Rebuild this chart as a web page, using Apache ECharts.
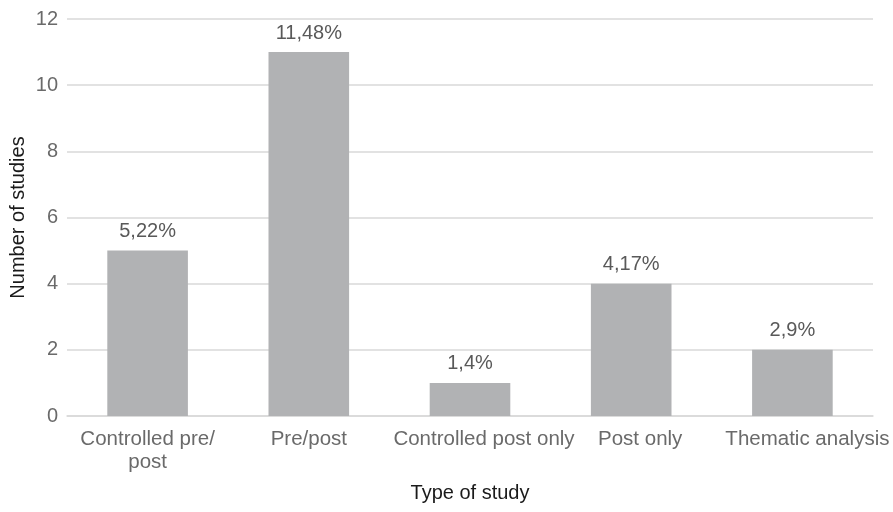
<!DOCTYPE html>
<html>
<head>
<meta charset="utf-8">
<script src="https://cdn.jsdelivr.net/npm/echarts@6/dist/echarts.min.js"></script>
<style>
  html, body { margin: 0; padding: 0; background: #fff; }
  #chart { width: 893px; height: 512px; }
</style>
</head>
<body>
<div id="chart"></div>
<script>
// Study types and how many studies fall into each
const categories = ['Controlled pre/\npost', 'Pre/post', 'Controlled post only', 'Post only', 'Thematic analysis'];
const studyCounts = [5, 11, 1, 4, 2];
const countLabels = ['5,22%', '11,48%', '1,4%', '4,17%', '2,9%'];
const yTicks = [0, 2, 4, 6, 8, 10, 12];

// left padding (px) nudging each category caption to the right
const captionNudge = [0, 0, 28, 18, 30];

const chart = echarts.init(document.getElementById('chart'));
const font = 'Liberation Sans, Arial, Helvetica, sans-serif';

const captionRich = {};
captionNudge.forEach((pad, i) => {
  captionRich['c' + i] = {
    color: '#6a6a6a', fontSize: 20.5, fontFamily: font,
    lineHeight: 23, padding: [0, 0, 0, pad]
  };
});

chart.setOption({
  animation: false,
  grid: { left: 67, right: 20, top: 19, bottom: 96, outerBoundsMode: 'none', containLabel: false },
  xAxis: {
    type: 'category',
    data: categories,
    name: 'Type of study',
    nameLocation: 'middle',
    nameGap: 67,
    nameMoveOverlap: false,
    nameTextStyle: { color: '#1a1a1a', fontSize: 20, fontFamily: font },
    axisLine: { lineStyle: { color: '#d9d9d9', width: 1.5 } },
    axisTick: { show: false },
    axisLabel: {
      color: '#6a6a6a', fontSize: 20.5, fontFamily: font,
      margin: 12, lineHeight: 23, interval: 0,
      formatter: (value, idx) => value.split('\n').map(s => '{c' + idx + '|' + s + '}').join('\n'),
      rich: captionRich
    }
  },
  yAxis: {
    type: 'value',
    min: yTicks[0],
    max: yTicks[yTicks.length - 1],
    interval: 2,
    name: 'Number of studies',
    nameLocation: 'middle',
    nameGap: 39,
    nameMoveOverlap: false,
    nameTextStyle: { color: '#1a1a1a', fontSize: 20, fontFamily: font },
    axisLine: { show: false },
    axisTick: { show: false },
    axisLabel: { color: '#6a6a6a', fontSize: 20, fontFamily: font, margin: 9 },
    splitLine: { lineStyle: { color: '#d9d9d9', width: 1.5 } }
  },
  series: [{
    type: 'bar',
    data: studyCounts,
    barWidth: '50%',
    itemStyle: { color: '#b1b2b4' },
    label: {
      show: true,
      position: 'top',
      distance: 9,
      color: '#595959',
      fontSize: 20,
      fontFamily: font,
      formatter: p => countLabels[p.dataIndex]
    }
  }]
});
</script>
</body>
</html>
